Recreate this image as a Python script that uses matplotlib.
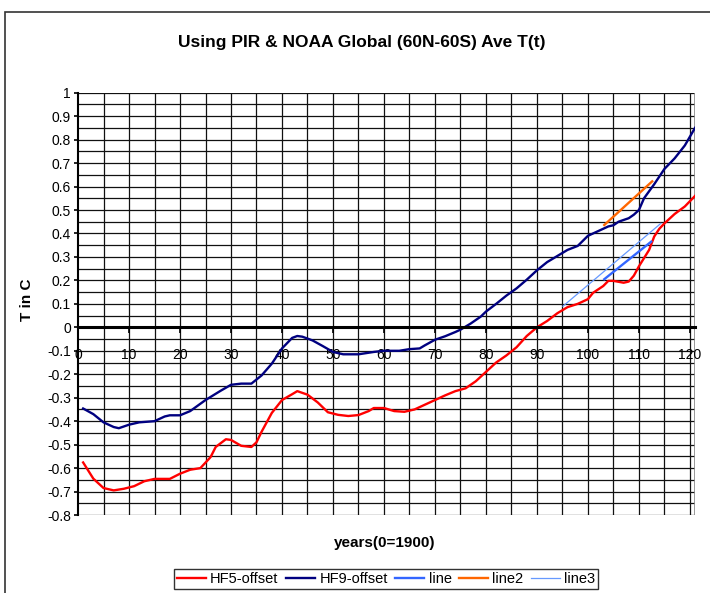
import numpy as np
import matplotlib.pyplot as plt
from matplotlib.patches import Rectangle

plt.rcParams['font.family'] = ['Liberation Sans', 'DejaVu Sans']

# HF5-offset (red)
hf5_x = [1, 3, 5, 7, 9, 11, 13, 15, 18, 20, 22, 24, 26, 27, 29, 30, 32, 34, 35, 36,
         38, 40, 42, 43, 45, 47, 49, 51, 53, 55, 57, 58, 60, 62, 64, 66, 68, 70, 72,
         74, 76, 78, 80, 82, 84, 86, 88, 90, 92, 94, 96, 98, 100, 101, 103, 104, 105,
         107, 108, 109, 110, 112, 113, 114, 115, 117, 119, 121]
hf5_y = [-0.576, -0.645, -0.685, -0.695, -0.688, -0.677, -0.656, -0.646, -0.646, -0.624,
         -0.607, -0.60, -0.553, -0.51, -0.477, -0.48, -0.505, -0.51, -0.49, -0.445,
         -0.365, -0.31, -0.285, -0.272, -0.287, -0.32, -0.362, -0.373, -0.378, -0.374,
         -0.357, -0.344, -0.344, -0.357, -0.36, -0.35, -0.33, -0.31, -0.29, -0.272,
         -0.26, -0.23, -0.19, -0.15, -0.12, -0.085, -0.037, 0.0, 0.027, 0.06, 0.086,
         0.10, 0.12, 0.147, 0.176, 0.198, 0.198, 0.19, 0.195, 0.22, 0.26, 0.33, 0.387,
         0.42, 0.443, 0.483, 0.515, 0.56]

# HF9-offset (navy)
hf9_x = [1, 3, 5, 7, 8, 10, 12, 15, 17, 18, 20, 22, 25, 28, 30, 32, 34, 36, 38, 40,
         42, 43, 44, 46, 48, 50, 52, 55, 58, 60, 63, 65, 67, 68, 70, 72, 74, 75, 77,
         79, 80, 82, 84, 86, 88, 90, 92, 94, 96, 98, 100, 101, 102, 104, 105, 106, 108,
         109, 110, 111, 112, 113, 115, 117, 119, 121]
hf9_y = [-0.346, -0.37, -0.405, -0.425, -0.43, -0.415, -0.405, -0.40, -0.38, -0.375,
         -0.375, -0.357, -0.31, -0.27, -0.245, -0.24, -0.24, -0.205, -0.155, -0.09,
         -0.045, -0.037, -0.04, -0.056, -0.08, -0.105, -0.115, -0.115, -0.105, -0.10,
         -0.10, -0.093, -0.09, -0.077, -0.053, -0.038, -0.02, -0.01, 0.016, 0.046,
         0.067, 0.10, 0.135, 0.166, 0.203, 0.243, 0.278, 0.304, 0.33, 0.347, 0.39,
         0.40, 0.41, 0.43, 0.435, 0.45, 0.465, 0.48, 0.50, 0.55, 0.58, 0.61, 0.675,
         0.72, 0.775, 0.85]

line_x = [103.2, 112.4]
line_y = [0.205, 0.365]
line2_x = [103.2, 112.6]
line2_y = [0.436, 0.622]
line3_x = [95.1, 114.3]
line3_y = [0.09, 0.443]

fig = plt.figure(figsize=(7.1, 5.93), dpi=100)
ax = fig.add_axes([0.1099, 0.1315, 0.869, 0.7122])

# outer chart border
fig.patches.append(Rectangle((5 / 710, -0.1), 1.2, 1 - 12 / 593 + 0.1,
                             transform=fig.transFigure, fill=False,
                             edgecolor='#333333', lw=1.2))

ax.plot(hf5_x, hf5_y, color='#ff0000', lw=1.7, label='HF5-offset')
ax.plot(hf9_x, hf9_y, color='#000080', lw=1.7, label='HF9-offset')
ax.plot(line_x, line_y, color='#3366ff', lw=1.7, label='line')
ax.plot(line2_x, line2_y, color='#ff6600', lw=1.7, label='line2')
ax.plot(line3_x, line3_y, color='#6699ff', lw=0.9, label='line3')

ax.set_xlim(0, 121)
ax.set_ylim(-0.8, 1.0)

for xv in np.arange(5, 121, 5):
    ax.axvline(xv, color='#111111', lw=0.9, zorder=0)
for yv in np.arange(-0.8, 1.001, 0.05):
    ax.axhline(yv, color='#111111', lw=0.9, zorder=0)
ax.axvline(121, color='#888888', lw=1.2, zorder=0)

ax.spines['top'].set_visible(False)
ax.spines['right'].set_visible(False)
ax.spines['bottom'].set_position(('data', 0))
ax.spines['bottom'].set_linewidth(2.2)
ax.spines['left'].set_linewidth(1.5)

ax.set_xticks(np.arange(0, 121, 10))
ax.set_xticklabels([str(v) for v in range(0, 121, 10)])
ax.tick_params(axis='x', direction='out', length=4, width=1.2, pad=11, labelsize=10)
yticks = np.round(np.arange(-0.8, 1.01, 0.1), 1)
ax.set_yticks(yticks)
ax.set_yticklabels(['0' if v == 0 else ('1' if v == 1 else f'{v:g}') for v in yticks])
ax.tick_params(axis='y', direction='out', length=3, width=1.2, pad=2, labelsize=10)

fig.text(362 / 710, 1 - 42 / 593, 'Using PIR & NOAA Global (60N-60S) Ave T(t)',
         ha='center', va='center', fontsize=12.5, fontweight='bold')
fig.text(27 / 710, 1 - 300 / 593, 'T in C', ha='center', va='center',
         rotation=90, fontsize=11, fontweight='bold')
fig.text(385 / 710, 1 - 543 / 593, 'years(0=1900)', ha='center', va='center',
         fontsize=11, fontweight='bold')

leg = fig.legend(loc='upper center', bbox_to_anchor=(386 / 710, 1 - 569 / 593),
                 ncol=5, fontsize=10.5, frameon=True, fancybox=False,
                 handlelength=2.0, handletextpad=0.3, columnspacing=0.5,
                 borderpad=0.2, borderaxespad=0)
leg.get_frame().set_edgecolor('black')
leg.get_frame().set_linewidth(1.0)

fig.savefig('out.png', dpi=100)
